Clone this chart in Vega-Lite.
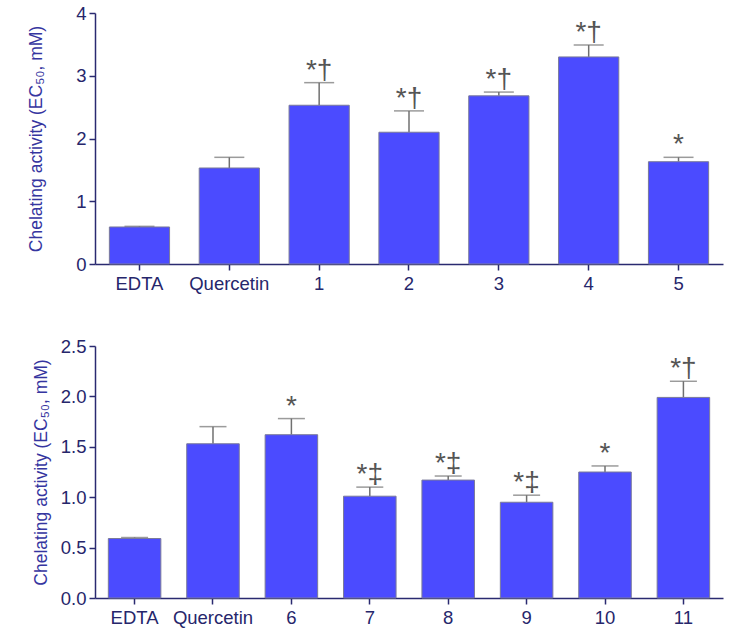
{
  "$schema": "https://vega.github.io/schema/vega-lite/v6.json",
  "padding": {"left": 27, "top": 4, "right": 5, "bottom": 5},
  "spacing": 44,
  "config": {
    "view": {"stroke": null},
    "font": "Liberation Sans",
    "axis": {
      "domainColor": "#2a2a70",
      "tickColor": "#2a2a70",
      "labelColor": "#26266b",
      "titleColor": "#3535a0",
      "labelFont": "Liberation Sans",
      "titleFont": "Liberation Sans",
      "labelFontSize": 18.5,
      "titleFontSize": 17.5,
      "titleFontWeight": "normal",
      "grid": false,
      "tickSize": 6,
      "domainWidth": 1.5,
      "tickWidth": 1.5
    }
  },
  "vconcat": [
    {
      "width": 628,
      "height": 251,
      "data": {"values": [
        {"compound": "EDTA", "value": 0.59, "err": 0.60, "sig": ""},
        {"compound": "Quercetin", "value": 1.53, "err": 1.70, "sig": ""},
        {"compound": "1", "value": 2.53, "err": 2.89, "sig": "*†"},
        {"compound": "2", "value": 2.10, "err": 2.44, "sig": "*†"},
        {"compound": "3", "value": 2.68, "err": 2.74, "sig": "*†"},
        {"compound": "4", "value": 3.30, "err": 3.49, "sig": "*†"},
        {"compound": "5", "value": 1.63, "err": 1.70, "sig": "*"}
      ]},
      "encoding": {
        "x": {"field": "compound", "type": "nominal", "sort": null,
              "scale": {"paddingInner": 0.33, "paddingOuter": 0.16},
              "axis": {"title": null, "labelAngle": 0, "labelPadding": 4}}
      },
      "layer": [
        {"mark": {"type": "rule", "color": "#707070", "strokeWidth": 1.5},
         "encoding": {"y": {"field": "value", "type": "quantitative"}, "y2": {"field": "err"}}},
        {"mark": {"type": "tick", "color": "#707070", "size": 30, "thickness": 1.5},
         "encoding": {"y": {"field": "err", "type": "quantitative"}}},
        {"mark": {"type": "bar", "color": "#4b4bff", "stroke": "#7a7a9a", "strokeWidth": 1},
         "encoding": {"y": {"field": "value", "type": "quantitative",
                            "scale": {"domain": [0, 4], "nice": false},
                            "axis": {"title": "Chelating activity (EC₅₀, mM)", "values": [0, 1, 2, 3, 4], "format": "d", "labelPadding": 3, "titlePadding": 30}}}},
        {"mark": {"type": "text", "color": "#555555", "fontSize": 28, "baseline": "alphabetic", "dy": -4},
         "encoding": {"y": {"field": "err", "type": "quantitative"}, "text": {"field": "sig"}}}
      ]
    },
    {
      "width": 628,
      "height": 252,
      "data": {"values": [
        {"compound": "EDTA", "value": 0.59, "err": 0.60, "sig": ""},
        {"compound": "Quercetin", "value": 1.53, "err": 1.70, "sig": ""},
        {"compound": "6", "value": 1.62, "err": 1.78, "sig": "*"},
        {"compound": "7", "value": 1.01, "err": 1.10, "sig": "*‡"},
        {"compound": "8", "value": 1.17, "err": 1.21, "sig": "*‡"},
        {"compound": "9", "value": 0.95, "err": 1.02, "sig": "*‡"},
        {"compound": "10", "value": 1.25, "err": 1.31, "sig": "*"},
        {"compound": "11", "value": 1.99, "err": 2.15, "sig": "*†"}
      ]},
      "encoding": {
        "x": {"field": "compound", "type": "nominal", "sort": null,
              "scale": {"paddingInner": 0.33, "paddingOuter": 0.17},
              "axis": {"title": null, "labelAngle": 0, "labelPadding": 4}}
      },
      "layer": [
        {"mark": {"type": "rule", "color": "#707070", "strokeWidth": 1.5},
         "encoding": {"y": {"field": "value", "type": "quantitative"}, "y2": {"field": "err"}}},
        {"mark": {"type": "tick", "color": "#707070", "size": 27, "thickness": 1.5},
         "encoding": {"y": {"field": "err", "type": "quantitative"}}},
        {"mark": {"type": "bar", "color": "#4b4bff", "stroke": "#7a7a9a", "strokeWidth": 1},
         "encoding": {"y": {"field": "value", "type": "quantitative",
                            "scale": {"domain": [0, 2.5], "nice": false},
                            "axis": {"title": "Chelating activity (EC₅₀, mM)", "values": [0, 0.5, 1, 1.5, 2, 2.5], "format": ".1f", "labelPadding": 3, "titlePadding": 10}}}},
        {"mark": {"type": "text", "color": "#555555", "fontSize": 28, "baseline": "alphabetic", "dy": -4},
         "encoding": {"y": {"field": "err", "type": "quantitative"}, "text": {"field": "sig"}}}
      ]
    }
  ]
}
